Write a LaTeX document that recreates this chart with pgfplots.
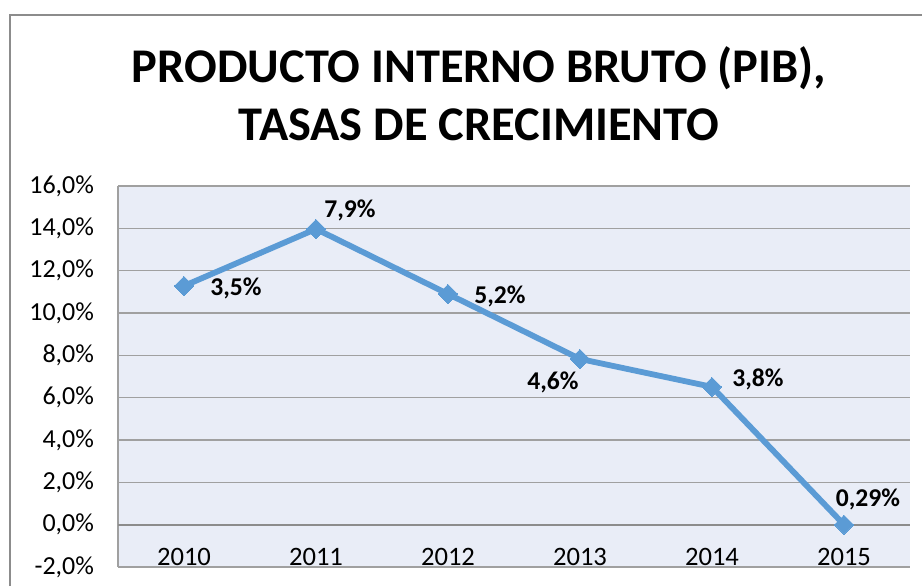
\documentclass[border=0pt]{standalone}
\usepackage{pgfplots}
\pgfplotsset{compat=1.18}
\usepackage{fontspec}
\setmainfont{Carlito}
\definecolor{linecol}{HTML}{5B9BD5}
\definecolor{plotbg}{HTML}{E9EDF7}
\definecolor{gridcol}{HTML}{A0A0A0}
\definecolor{framecol}{HTML}{8C8C8C}
\begin{document}
\begin{tikzpicture}
\useasboundingbox (0pt,0pt) rectangle (461pt,-293pt);
\draw[framecol, line width=0.6pt] (5pt,-293pt) -- (5pt,-7.5pt) -- (461pt,-7.5pt);
\node[font=\fontsize{24.2}{29}\selectfont\bfseries, align=center, anchor=base] at (239.5pt,-70pt) {PRODUCTO INTERNO BRUTO (PIB),\\TASAS DE CRECIMIENTO};
\begin{axis}[
  at={(59pt,-93pt)}, anchor=north west,
  scale only axis, width=396pt, height=190.5pt,
  xmin=-0.5, xmax=5.5, ymin=-2, ymax=16,
  axis background/.style={fill=plotbg},
  axis line style={gridcol, line width=0.6pt},
  axis x line*=bottom, axis y line*=left,
  separate axis lines,
  x axis line style={-}, y axis line style={-},
  xtick={0,1,2,3,4,5},
  xticklabels={2010,2011,2012,2013,2014,2015},
  ytick={-2,0,2,4,6,8,10,12,14,16},
  ymajorgrids, grid style={gridcol, line width=0.6pt},
  major tick length=0pt,
  tick label style={font=\fontsize{13}{15}\selectfont},
  xticklabel style={font=\fontsize{13.3}{15}\selectfont},
  /pgf/number format/assume math mode=true,
  yticklabel={\pgfmathprintnumber[fixed,fixed zerofill,precision=1,use comma]{\tick}\%},
  yticklabel style={anchor=east, xshift=-8.5pt},
  xticklabel style={anchor=base, yshift=1pt},
  clip=false,
]
\draw[gridcol, line width=0.6pt] (rel axis cs:0,1) -- (rel axis cs:1,1);
\draw[framecol, line width=0.9pt] (axis cs:-0.5,0) -- (axis cs:5.5,0);
\addplot[
  color=linecol, line width=2.9pt,
  mark=square*, mark size=3.4pt, mark options={rotate=45, fill=linecol, draw=linecol, line width=0pt},
  nodes near coords,
  point meta=explicit symbolic,
  visualization depends on={value \thisrow{dx} \as \dx},
  visualization depends on={value \thisrow{dy} \as \dy},
  every node near coord/.append style={anchor=center, xshift=\dx pt, yshift=\dy pt, font=\fontsize{12.8}{14}\selectfont\bfseries, text=black},
] table[x=x, y=y, meta=lab] {
x y lab dx dy
0 11.28 {3,5\%} 26 -1
1 13.97 {7,9\%} 17 9.5
2 10.90 {5,2\%} 26 -1
3 7.83 {4,6\%} -13.5 -11.5
4 6.51 {3,8\%} 23 3.5
5 0.0 {0,29\%} 12 12.5
};
\end{axis}
\end{tikzpicture}
\end{document}
